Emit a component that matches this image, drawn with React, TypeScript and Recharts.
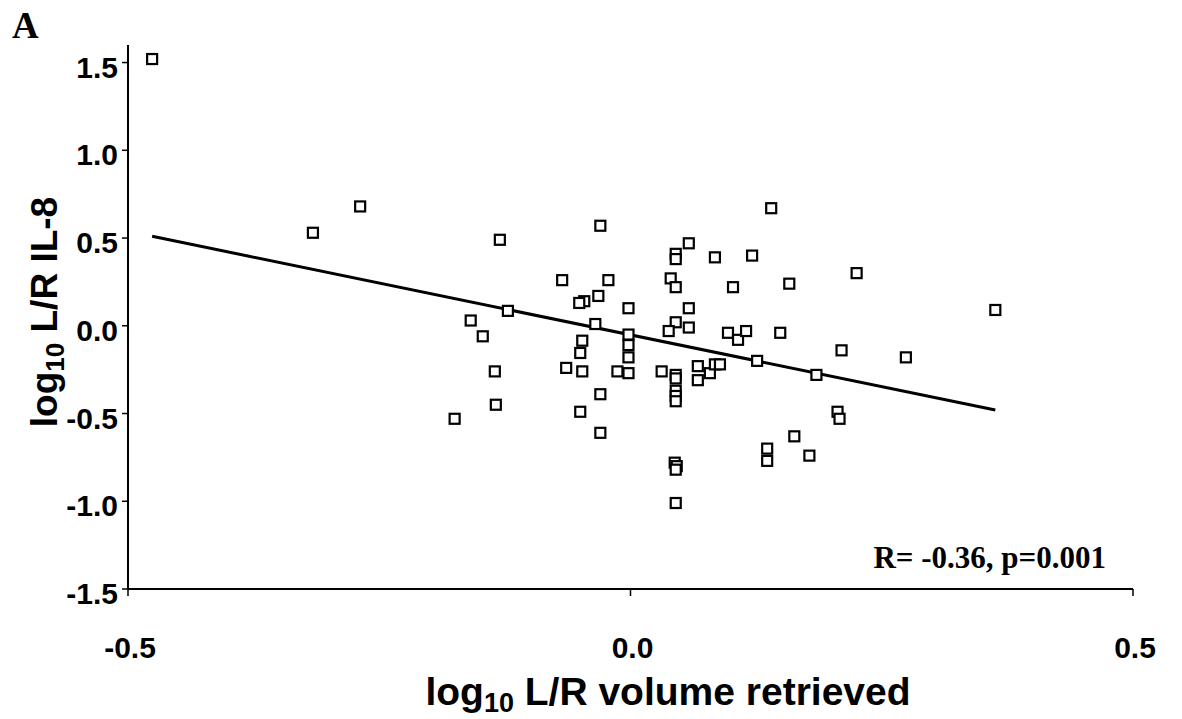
import React from "react";
import {
  ScatterChart,
  Scatter,
  XAxis,
  YAxis,
  ReferenceLine,
  Label,
} from "recharts";

// log10 L/R volume retrieved for each subject
const volumeRatio = [
  -0.476, -0.316, -0.269, -0.13, -0.03, 0.14, 0.058, 0.045, 0.045, 0.084,
  0.121, -0.068, -0.022, 0.04, 0.045, 0.102, 0.158, 0.225, -0.032, -0.046,
  -0.051, -0.122, -0.002, 0.058, 0.363, -0.159, -0.147, -0.035, 0.045, 0.058,
  0.038, -0.002, -0.002, -0.002, -0.002, 0.097, 0.107, 0.115, 0.149, -0.048,
  -0.05, 0.21, 0.274, -0.135, -0.064, -0.048, -0.013, 0.031, 0.045, 0.045,
  0.067, 0.067, 0.079, 0.084, 0.089, 0.126, 0.185, 0.045, 0.045, 0.045,
  -0.03, -0.134, -0.05, -0.175, -0.03, 0.206, 0.208, 0.163, 0.136, 0.136,
  0.178, 0.044, 0.046, 0.045, 0.045,
];

// log10 L/R IL-8 for the same subjects
const il8Ratio = [
  1.52, 0.53, 0.68, 0.49, 0.57, 0.67, 0.47, 0.41, 0.38, 0.39,
  0.4, 0.26, 0.26, 0.27, 0.22, 0.22, 0.24, 0.3, 0.17, 0.14,
  0.13, 0.085, 0.1, 0.1, 0.09, 0.03, -0.06, 0.01, 0.02, -0.01,
  -0.03, -0.05, -0.11, -0.18, -0.27, -0.04, -0.08, -0.03, -0.04, -0.085,
  -0.155, -0.14, -0.18, -0.26, -0.24, -0.26, -0.26, -0.26, -0.28, -0.3,
  -0.23, -0.31, -0.27, -0.22, -0.22, -0.2, -0.28, -0.37, -0.4, -0.43,
  -0.39, -0.45, -0.49, -0.53, -0.61, -0.49, -0.53, -0.63, -0.7, -0.77,
  -0.74, -0.78, -0.8, -0.82, -1.01,
];

// least-squares fit, drawn between the extreme x values
const fitX = [-0.476, 0.363];
const fitY = [0.51, -0.48];

const xTicks = [-0.5, 0, 0.5];
const yTicks = [-1.5, -1.0, -0.5, 0, 0.5, 1.0, 1.5];

const points = volumeRatio.map((x, i) => ({ x, y: il8Ratio[i] }));

const SANS = "'Liberation Sans', Arial, sans-serif";
const SERIF = "'Liberation Serif', 'Times New Roman', serif";

function SquareMarker(props: any) {
  const { cx, cy } = props;
  return (
    <rect
      x={cx - 5}
      y={cy - 5}
      width={10}
      height={10}
      fill="#fff"
      stroke="#000"
      strokeWidth={2.2}
    />
  );
}

function XTick(props: any) {
  const { x, y, payload } = props;
  return (
    <text
      x={x + 2}
      y={y + 60}
      textAnchor="middle"
      fontFamily={SANS}
      fontWeight="bold"
      fontSize={30}
      fill="#000"
    >
      {payload.value.toFixed(1)}
    </text>
  );
}

function YTick(props: any) {
  const { x, y, payload } = props;
  return (
    <text
      x={x - 2}
      y={y + 15}
      textAnchor="end"
      fontFamily={SANS}
      fontWeight="bold"
      fontSize={30}
      fill="#000"
    >
      {payload.value.toFixed(1)}
    </text>
  );
}

function XTitle() {
  return (
    <text
      x={668}
      y={705}
      textAnchor="middle"
      fontFamily={SANS}
      fontWeight="bold"
      fontSize={39}
      fill="#000"
    >
      log
      <tspan fontSize={27} dy={7}>
        10
      </tspan>
      <tspan dy={-7}> L/R volume retrieved</tspan>
    </text>
  );
}

function YTitle() {
  return (
    <text
      x={57}
      y={312}
      transform="rotate(-90 57 312)"
      textAnchor="middle"
      fontFamily={SANS}
      fontWeight="bold"
      fontSize={37}
      fill="#000"
    >
      log
      <tspan fontSize={26} dy={7}>
        10
      </tspan>
      <tspan dy={-7}> L/R IL-8</tspan>
    </text>
  );
}

export default function App() {
  return (
    <div
      style={{
        position: "absolute",
        left: 0,
        top: 0,
        width: 1182,
        height: 719,
        background: "#fff",
      }}
    >
      <ScatterChart
        width={1182}
        height={719}
        margin={{ top: 45, right: 49, bottom: 0, left: 0 }}
      >
        <XAxis
          type="number"
          dataKey="x"
          domain={[-0.5, 0.5]}
          ticks={xTicks}
          allowDataOverflow
          height={130}
          axisLine={{ stroke: "#000", strokeWidth: 2 }}
          tickLine={{ stroke: "#000", strokeWidth: 1.5 }}
          tickSize={7}
          tick={<XTick />}
        >
          <Label content={<XTitle />} />
        </XAxis>
        <YAxis
          type="number"
          dataKey="y"
          domain={[-1.5, 1.6]}
          ticks={yTicks}
          allowDataOverflow
          width={128}
          axisLine={{ stroke: "#000", strokeWidth: 2 }}
          tickLine={{ stroke: "#000", strokeWidth: 1.5 }}
          tickSize={6}
          tick={<YTick />}
        >
          <Label content={<YTitle />} />
        </YAxis>
        <ReferenceLine
          segment={[
            { x: fitX[0], y: fitY[0] },
            { x: fitX[1], y: fitY[1] },
          ]}
          stroke="#000"
          strokeWidth={3}
          ifOverflow="visible"
        />
        <Scatter
          data={points}
          shape={<SquareMarker />}
          isAnimationActive={false}
        />
      </ScatterChart>
      <svg
        width={1182}
        height={719}
        style={{ position: "absolute", left: 0, top: 0, pointerEvents: "none" }}
      >
        <text
          x={12}
          y={38}
          fontFamily={SERIF}
          fontWeight="bold"
          fontSize={37}
          fill="#000"
        >
          A
        </text>
        <text
          x={1106}
          y={568}
          textAnchor="end"
          fontFamily={SERIF}
          fontWeight="bold"
          fontSize={31}
          fill="#000"
        >
          R= -0.36, p=0.001
        </text>
      </svg>
    </div>
  );
}
